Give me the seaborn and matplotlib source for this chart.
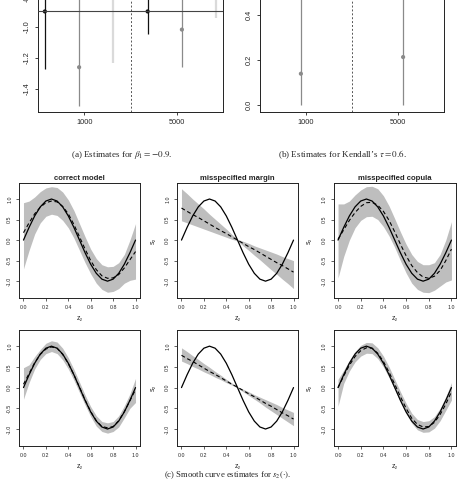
"""
Simulation summary: interval estimates and smooth curve estimates
"""
import seaborn as sns
import matplotlib.pyplot as plt

sns.set_style("ticks")
plt.rcParams["font.family"] = ["Liberation Sans", "DejaVu Sans"]
plt.rcParams["mathtext.fontset"] = "stix"

# top row: n=1000 / n=5000, each with correct / misspecified margin / misspecified copula
pos = [1, 2, 3, 4, 5, 6]
shade = ["#111111", "#8a8a8a", "#dadada", "#111111", "#8a8a8a", "#dadada"]
beta_est = [-0.90, -1.26, -0.80, -0.90, -1.017, -0.80]
beta_lo = [-1.27, -1.51, -1.23, -1.045, -1.258, -0.94]
beta_hi = [-0.55, -0.60, -0.40, -0.75, -0.60, -0.66]
tau_est = [0.60, 0.139, 0.60, 0.60, 0.213, 0.60]
tau_lo = [0.55, 0.0, 0.50, 0.57, 0.0, 0.54]
tau_hi = [0.65, 0.62, 0.70, 0.63, 0.55, 0.66]
n_labels = ["1000", "5000"]

# bottom panels: z grid, true s2 and estimates with bands
z = [0.00, 0.05, 0.10, 0.15, 0.20, 0.25, 0.30, 0.35, 0.40, 0.45, 0.50,
     0.55, 0.60, 0.65, 0.70, 0.75, 0.80, 0.85, 0.90, 0.95, 1.00]
true_s2 = [0.0, 0.309, 0.588, 0.809, 0.951, 1.0, 0.951, 0.809, 0.588, 0.309, 0.0,
           -0.309, -0.588, -0.809, -0.951, -1.0, -0.951, -0.809, -0.588, -0.309, 0.0]

est_c1 = [0.18, 0.42, 0.64, 0.80, 0.91, 0.95, 0.93, 0.82, 0.64, 0.38, 0.08, -0.22, -0.50, -0.72, -0.87, -0.93, -0.92, -0.84, -0.68, -0.48, -0.28]
up_c1 = [0.91, 0.95, 1.05, 1.18, 1.27, 1.30, 1.28, 1.17, 0.98, 0.72, 0.40, 0.08, -0.22, -0.45, -0.60, -0.65, -0.64, -0.55, -0.35, 0.00, 0.40]
lo_c1 = [-0.70, -0.25, 0.15, 0.42, 0.58, 0.63, 0.60, 0.48, 0.30, 0.05, -0.25, -0.55, -0.82, -1.05, -1.20, -1.27, -1.25, -1.18, -1.05, -0.98, -0.95]

est_m1 = [0.78, 0.70, 0.62, 0.55, 0.47, 0.39, 0.31, 0.23, 0.16, 0.08, 0.00, -0.08, -0.16, -0.23, -0.31, -0.39, -0.47, -0.55, -0.62, -0.70, -0.78]
up_m1 = [1.25, 1.13, 1.00, 0.88, 0.76, 0.63, 0.51, 0.39, 0.27, 0.14, 0.02, -0.03, -0.08, -0.14, -0.19, -0.24, -0.29, -0.34, -0.40, -0.45, -0.50]
lo_m1 = [0.47, 0.42, 0.37, 0.32, 0.27, 0.22, 0.17, 0.12, 0.07, 0.02, -0.02, -0.14, -0.25, -0.37, -0.48, -0.60, -0.72, -0.83, -0.95, -1.06, -1.18]

est_k1 = [0.02, 0.25, 0.48, 0.67, 0.82, 0.91, 0.92, 0.85, 0.70, 0.48, 0.20, -0.10, -0.38, -0.62, -0.79, -0.90, -0.93, -0.88, -0.74, -0.50, -0.22]
up_k1 = [0.88, 0.88, 0.95, 1.10, 1.22, 1.30, 1.31, 1.25, 1.08, 0.83, 0.52, 0.20, -0.10, -0.35, -0.52, -0.60, -0.60, -0.55, -0.35, 0.00, 0.45]
lo_k1 = [-0.92, -0.40, 0.00, 0.30, 0.48, 0.57, 0.58, 0.50, 0.33, 0.10, -0.18, -0.50, -0.80, -1.05, -1.20, -1.27, -1.28, -1.22, -1.12, -1.02, -0.97]

est_c2 = [0.08, 0.34, 0.60, 0.80, 0.93, 0.98, 0.95, 0.80, 0.58, 0.31, 0.01, -0.30, -0.58, -0.80, -0.94, -0.97, -0.94, -0.80, -0.58, -0.32, -0.05]
up_c2 = [0.48, 0.55, 0.75, 0.92, 1.07, 1.13, 1.10, 0.95, 0.72, 0.44, 0.13, -0.18, -0.46, -0.68, -0.82, -0.85, -0.82, -0.68, -0.44, -0.15, 0.22]
lo_c2 = [-0.28, 0.12, 0.45, 0.68, 0.82, 0.87, 0.82, 0.67, 0.45, 0.18, -0.12, -0.42, -0.70, -0.93, -1.06, -1.10, -1.06, -0.95, -0.73, -0.50, -0.36]

est_m2 = [0.78, 0.70, 0.63, 0.55, 0.47, 0.39, 0.32, 0.24, 0.16, 0.08, 0.01, -0.07, -0.15, -0.22, -0.30, -0.38, -0.45, -0.53, -0.61, -0.68, -0.76]
up_m2 = [0.96, 0.87, 0.77, 0.68, 0.58, 0.49, 0.39, 0.30, 0.20, 0.11, 0.02, -0.04, -0.10, -0.17, -0.23, -0.29, -0.35, -0.41, -0.48, -0.54, -0.60]
lo_m2 = [0.64, 0.58, 0.51, 0.45, 0.38, 0.32, 0.25, 0.19, 0.12, 0.06, -0.01, -0.10, -0.19, -0.28, -0.37, -0.47, -0.56, -0.65, -0.74, -0.83, -0.92]

est_k2 = [0.00, 0.28, 0.54, 0.75, 0.89, 0.96, 0.95, 0.83, 0.63, 0.37, 0.08, -0.22, -0.50, -0.74, -0.89, -0.95, -0.94, -0.84, -0.65, -0.40, -0.10]
up_k2 = [0.20, 0.42, 0.66, 0.87, 1.02, 1.09, 1.08, 0.96, 0.76, 0.50, 0.20, -0.10, -0.38, -0.62, -0.77, -0.82, -0.80, -0.70, -0.50, -0.22, 0.12]
lo_k2 = [-0.45, 0.10, 0.40, 0.62, 0.76, 0.83, 0.82, 0.70, 0.50, 0.24, -0.05, -0.35, -0.63, -0.86, -1.02, -1.08, -1.07, -0.98, -0.80, -0.55, -0.30]

titles = ["correct model", "misspecified margin", "misspecified copula"]

W, H = 458, 483
fig = plt.figure(figsize=(W / 100, H / 100), dpi=100)


def px_axes(left, top, right, bottom):
    return fig.add_axes([left / W, 1 - bottom / H, (right - left) / W, (bottom - top) / H])


def style_box(ax):
    for s in ax.spines.values():
        s.set_color("#222222")
        s.set_linewidth(0.7)


def rot_y(ax):
    ax.tick_params(axis="y", labelrotation=90)
    plt.setp(ax.get_yticklabels(), va="center")


# ---- (a) and (b): interval estimates (tops cropped, as in the paper figure)
def interval_panel(ax, est, lo, hi, truth, ylim, yticks):
    for i in range(6):
        lw = 1.6 if shade[i] == "#dadada" else 0.9
        ax.vlines(pos[i], lo[i], hi[i], color=shade[i], lw=lw)
    sns.scatterplot(x=pos, y=est, hue=pos, palette=shade, legend=False,
                    s=9, edgecolor="none", ax=ax, zorder=3)
    ax.axhline(truth, color="#444444", lw=0.8, zorder=4)
    ax.axvline(3.5, color="#555555", lw=0.7, ls=(0, (2, 2)))
    ax.set_xlim(0.8, 6.2)
    ax.set_ylim(*ylim)
    ax.set_xticks([2.15, 4.85])
    ax.set_xticklabels(n_labels)
    ax.set_yticks(yticks)
    ax.set_yticklabels([f"{v:.1f}" for v in yticks])
    ax.tick_params(labelsize=5.3, length=2.5, width=0.6, pad=2.5, color="#222222")
    rot_y(ax)
    style_box(ax)


ax_a = px_axes(38, -40, 223, 112)
interval_panel(ax_a, beta_est, beta_lo, beta_hi, -0.9, (-1.549, -0.568), [-1.4, -1.2, -1.0, -0.8])
ax_b = px_axes(260, -40, 444, 112)
interval_panel(ax_b, tau_est, tau_lo, tau_hi, 0.6, (-0.031, 0.644), [0.0, 0.2, 0.4])

fig.text(122 / W, 1 - 155 / H, r"(a) Estimates for $\beta_1 = -0.9$.",
         ha="center", va="center", fontsize=6.6, family=["Liberation Serif"])
fig.text(343 / W, 1 - 155 / H, r"(b) Estimates for Kendall’s $\tau = 0.6$.",
         ha="center", va="center", fontsize=6.6, family=["Liberation Serif"])

# ---- (c): smooth curve estimates
panels = [
    (est_c1, up_c1, lo_c1), (est_m1, up_m1, lo_m1), (est_k1, up_k1, lo_k1),
    (est_c2, up_c2, lo_c2), (est_m2, up_m2, lo_m2), (est_k2, up_k2, lo_k2),
]
cols = [(19, 140), (177, 298), (333.5, 456)]
rows = [(183, 298), (330, 446)]

for k, (est, up, lo) in enumerate(panels):
    r, c = divmod(k, 3)
    ax = px_axes(cols[c][0], rows[r][0], cols[c][1], rows[r][1])
    ax.fill_between(z, lo, up, color="#bebebe", lw=0)
    sns.lineplot(x=z, y=true_s2, color="black", lw=0.9, ax=ax)
    sns.lineplot(x=z, y=est, color="black", lw=0.8, ax=ax, linestyle=(0, (3.5, 2.5)))
    ax.set_xlim(-0.04, 1.04)
    ax.set_ylim(-1.41, 1.39)
    ax.set_xticks([0.0, 0.2, 0.4, 0.6, 0.8, 1.0])
    ax.set_xticklabels(["0.0", "0.2", "0.4", "0.6", "0.8", "1.0"])
    ax.set_yticks([-1.0, -0.5, 0.0, 0.5, 1.0])
    ax.set_yticklabels(["-1.0", "-0.5", "0.0", "0.5", "1.0"])
    ax.tick_params(labelsize=3.8, length=2, width=0.5, pad=3, color="#222222")
    rot_y(ax)
    style_box(ax)
    ax.set_xlabel("z₂", fontsize=5)
    ax.set_ylabel("s₂", fontsize=5)
    ax.xaxis.set_label_coords(0.5, -0.15)
    ax.yaxis.set_label_coords(-0.17, 0.5)
    if r == 0:
        ax.set_title(titles[c], fontsize=5.6, fontweight="bold", pad=2)

fig.text(228 / W, 1 - 475.5 / H, r"(c) Smooth curve estimates for $s_2(\cdot)$.",
         ha="center", va="center", fontsize=6.2, family=["Liberation Serif"])

fig.savefig("out.png", dpi=100)
